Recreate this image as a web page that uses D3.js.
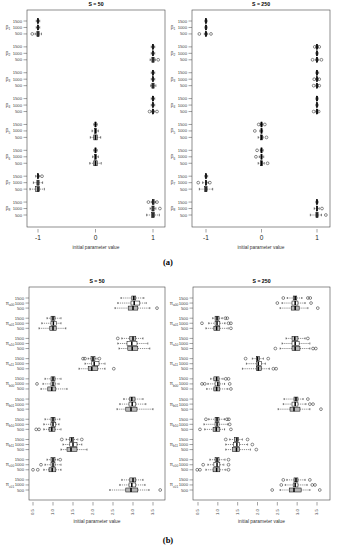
<!DOCTYPE html>
<html>
<head>
<meta charset="utf-8">
<script src="https://cdn.jsdelivr.net/npm/d3@7"></script>
<style>
  body { margin: 0; background: #fff; }
  text { font-family: "Liberation Sans", Arial, sans-serif; }
</style>
</head>
<body>
<div id="chart"></div>
<script>
// sample sizes per group (top to bottom inside a group)
const sizes = ["1500", "1000", "500"];
const boxFill = ["#c4c4c4", "#ffffff", "#b8b8b8"];

// group labels
const labelsA = ["1", "2", "3", "4", "5", "6", "7", "8"];
const labelsB = ["a00", "a01", "a10", "a11", "b00", "b01", "b10", "b11", "c00", "c01"];

const ticksA = [-1, 0, 1];
const ticksB = [0.5, 1.0, 1.5, 2.0, 2.5, 3.0, 3.5];

// [whisker low, q1, median, q3, whisker high]; rows: group by group, 1500 / 1000 / 500
const a50Stats = [
  [-1.03, -1.01, -1.00, -0.99, -0.97], [-1.03, -1.01, -1.00, -0.99, -0.97], [-1.05, -1.02, -1.00, -0.98, -0.94],
  [0.97, 0.99, 1.00, 1.01, 1.03], [0.97, 0.99, 1.00, 1.01, 1.03], [0.95, 0.98, 1.00, 1.02, 1.04],
  [0.97, 0.99, 1.00, 1.01, 1.03], [0.97, 0.99, 1.00, 1.01, 1.03], [0.96, 0.98, 1.00, 1.02, 1.05],
  [0.97, 0.99, 1.00, 1.01, 1.03], [0.97, 0.99, 1.00, 1.01, 1.03], [0.97, 0.99, 1.00, 1.01, 1.03],
  [-0.03, -0.01, 0.00, 0.01, 0.03], [-0.06, -0.02, 0.00, 0.02, 0.05], [-0.09, -0.03, 0.00, 0.03, 0.09],
  [-0.03, -0.01, 0.00, 0.01, 0.03], [-0.05, -0.02, 0.00, 0.02, 0.05], [-0.10, -0.03, 0.00, 0.03, 0.10],
  [-1.04, -1.01, -1.00, -0.99, -0.97], [-1.08, -1.02, -1.00, -0.98, -0.92], [-1.14, -1.04, -1.00, -0.97, -0.89],
  [0.97, 0.99, 1.00, 1.02, 1.04], [0.95, 0.98, 1.00, 1.02, 1.05], [0.89, 0.97, 1.00, 1.03, 1.11]
];
const a50Out = [
  [], [], [-1.10],
  [], [], [1.09],
  [], [], [],
  [], [], [0.94, 1.07],
  [], [], [],
  [], [], [],
  [-0.93], [], [],
  [0.92, 1.07], [1.12], []
];

const a250Stats = [
  [-1.02, -1.01, -1.00, -0.99, -0.98], [-1.02, -1.01, -1.00, -0.99, -0.98], [-1.03, -1.01, -1.00, -0.99, -0.97],
  [0.98, 0.99, 1.00, 1.01, 1.02], [0.98, 0.99, 1.00, 1.01, 1.02], [0.97, 0.99, 1.00, 1.01, 1.03],
  [0.98, 0.99, 1.00, 1.01, 1.03], [0.98, 0.99, 1.00, 1.01, 1.02], [0.98, 0.99, 1.00, 1.01, 1.02],
  [0.98, 0.99, 1.00, 1.01, 1.02], [0.98, 0.99, 1.00, 1.01, 1.02], [0.98, 0.99, 1.00, 1.01, 1.02],
  [-0.02, -0.01, 0.00, 0.01, 0.02], [-0.03, -0.01, 0.00, 0.01, 0.02], [-0.06, -0.02, 0.00, 0.02, 0.03],
  [-0.02, -0.01, 0.00, 0.01, 0.03], [-0.04, -0.01, 0.00, 0.01, 0.04], [-0.06, -0.02, 0.00, 0.02, 0.05],
  [-1.02, -1.01, -1.00, -0.99, -0.97], [-1.06, -1.01, -1.00, -0.99, -0.96], [-1.12, -1.03, -1.00, -0.98, -0.88],
  [0.98, 0.99, 1.00, 1.01, 1.02], [0.95, 0.99, 1.00, 1.01, 1.04], [0.88, 0.98, 1.00, 1.02, 1.08]
];
const a250Out = [
  [], [], [-1.12, -0.91],
  [0.96, 1.04], [], [0.92, 1.08],
  [], [0.95, 1.04], [0.94, 1.04],
  [], [], [0.94, 1.03],
  [-0.05, 0.06], [-0.12], [0.09],
  [-0.08], [-0.10], [0.11],
  [], [-1.14, -0.93], [],
  [], [1.09], [1.16]
];

const b50Stats = [
  [2.70, 2.97, 3.02, 3.07, 3.27], [2.62, 2.95, 3.03, 3.17, 3.33], [2.55, 2.88, 3.00, 3.12, 3.42],
  [0.85, 0.95, 1.00, 1.05, 1.20], [0.72, 0.95, 1.01, 1.08, 1.20], [0.65, 0.92, 1.00, 1.08, 1.32],
  [2.72, 2.92, 3.00, 3.07, 3.25], [2.62, 2.85, 2.97, 3.10, 3.37], [2.65, 2.87, 2.98, 3.12, 3.42],
  [1.88, 1.95, 2.00, 2.05, 2.10], [1.80, 1.97, 2.03, 2.15, 2.30], [1.65, 1.88, 1.97, 2.12, 2.30],
  [0.80, 0.95, 1.00, 1.05, 1.20], [0.75, 0.95, 1.00, 1.05, 1.15], [0.70, 0.87, 0.97, 1.07, 1.35],
  [2.77, 2.92, 2.97, 3.05, 3.25], [2.67, 2.90, 2.98, 3.07, 3.32], [2.60, 2.82, 2.95, 3.10, 3.50],
  [0.80, 0.95, 1.00, 1.05, 1.17], [0.77, 0.95, 1.00, 1.07, 1.15], [0.77, 0.90, 0.97, 1.05, 1.20],
  [1.33, 1.42, 1.47, 1.52, 1.62], [1.25, 1.42, 1.50, 1.60, 1.72], [1.20, 1.35, 1.45, 1.60, 1.85],
  [0.85, 0.95, 1.00, 1.05, 1.12], [0.80, 0.95, 1.00, 1.05, 1.20], [0.77, 0.90, 0.98, 1.07, 1.20],
  [2.72, 2.92, 3.00, 3.07, 3.25], [2.67, 2.90, 2.97, 3.07, 3.30], [2.42, 2.82, 2.95, 3.12, 3.40]
];
const b50Out = [
  [], [], [3.60],
  [], [], [],
  [2.62], [], [],
  [1.75, 1.80, 2.16], [], [2.52],
  [], [0.60], [],
  [], [], [],
  [], [], [0.58, 0.65],
  [1.22, 1.72], [], [],
  [1.18], [0.70], [0.50, 0.62],
  [], [], [3.68]
];

const b250Stats = [
  [2.75, 2.90, 2.95, 2.99, 3.12], [2.62, 2.87, 2.95, 3.02, 3.20], [2.57, 2.85, 2.95, 3.05, 3.27],
  [0.87, 0.93, 0.98, 1.03, 1.11], [0.77, 0.93, 0.98, 1.05, 1.18], [0.70, 0.90, 0.97, 1.05, 1.26],
  [2.72, 2.87, 2.94, 3.02, 3.20], [2.62, 2.87, 2.95, 3.05, 3.32], [2.57, 2.87, 2.95, 3.07, 3.32],
  [1.87, 1.97, 2.00, 2.05, 2.15], [1.72, 1.97, 2.02, 2.10, 2.20], [1.62, 1.97, 2.02, 2.10, 2.30],
  [0.82, 0.90, 0.97, 1.03, 1.13], [0.75, 0.93, 1.00, 1.05, 1.17], [0.72, 0.90, 0.97, 1.05, 1.25],
  [2.67, 2.92, 2.97, 3.02, 3.15], [2.65, 2.87, 2.95, 3.02, 3.22], [2.52, 2.82, 2.92, 3.07, 3.32],
  [0.77, 0.93, 0.98, 1.03, 1.17], [0.65, 0.93, 0.98, 1.03, 1.25], [0.67, 0.88, 0.96, 1.05, 1.17],
  [1.30, 1.42, 1.48, 1.52, 1.62], [1.20, 1.40, 1.48, 1.55, 1.75], [1.20, 1.37, 1.47, 1.55, 1.82],
  [0.80, 0.93, 0.98, 1.03, 1.18], [0.75, 0.90, 0.98, 1.05, 1.15], [0.70, 0.88, 0.97, 1.05, 1.20],
  [2.74, 2.92, 2.97, 3.02, 3.20], [2.70, 2.90, 2.95, 3.02, 3.25], [2.57, 2.80, 2.92, 3.10, 3.32]
];
const b250Out = [
  [2.65, 3.27, 3.33], [2.50, 3.35], [3.52],
  [1.19, 1.24], [0.60, 1.27, 1.33], [1.33],
  [3.27], [], [2.45, 3.40, 3.47],
  [1.70, 2.27], [], [2.40, 2.47],
  [1.20, 1.27], [0.60, 0.67, 1.30], [1.33],
  [3.27], [3.32, 3.40], [3.60],
  [0.70, 1.23, 1.28], [1.30], [0.55, 1.33],
  [1.20, 1.75], [1.87], [1.97],
  [1.27], [0.63, 1.27], [0.48, 0.55, 1.27],
  [2.65, 3.32], [2.60, 3.38, 3.45], [2.37, 3.57]
];

const W = 337, H = 550;
const svg = d3.select("#chart").append("svg")
    .attr("width", W)
    .attr("height", H);

// Draw one boxplot panel
function drawPanel(p) {
    const g = svg.append("g");
    const nGroups = p.labels.length;
    const maxPos = (nGroups - 1) * 4 + 2;

    const x = d3.scaleLinear().domain(p.xDomain).range(p.xRange);
    const y = d3.scaleLinear().domain([0, maxPos]).range(p.yRange);
    const bh = p.boxH;

    // frame
    g.append("rect")
        .attr("x", p.frame[0]).attr("y", p.frame[1])
        .attr("width", p.frame[2] - p.frame[0])
        .attr("height", p.frame[3] - p.frame[1])
        .attr("fill", "none").attr("stroke", "#444").attr("stroke-width", 0.6);

    // title
    g.append("text")
        .attr("x", (p.frame[0] + p.frame[2]) / 2)
        .attr("y", p.frame[1] - 4)
        .attr("text-anchor", "middle")
        .attr("font-size", 5.2)
        .attr("font-weight", "bold")
        .text(p.title);

    // y ticks and labels
    p.stats.forEach((s, i) => {
        const pos = Math.floor(i / 3) * 4 + (i % 3);
        const yy = y(pos);
        g.append("line")
            .attr("x1", p.frame[0] - 3.5).attr("x2", p.frame[0])
            .attr("y1", yy).attr("y2", yy)
            .attr("stroke", "#444").attr("stroke-width", 0.5);
        g.append("text")
            .attr("x", p.frame[0] - 5)
            .attr("y", yy + 1.5)
            .attr("text-anchor", "end")
            .attr("font-size", 4.2)
            .attr("fill", "#444")
            .text(sizes[i % 3]);
    });

    // group labels
    p.labels.forEach((lab, gi) => {
        const t = g.append("text")
            .attr("x", p.frame[0] - 19)
            .attr("y", y(gi * 4 + 1) + 1.5)
            .attr("text-anchor", "middle")
            .attr("font-size", 4.6)
            .attr("fill", "#444");
        t.append("tspan").text(p.base);
        t.append("tspan").attr("font-size", 3.2).attr("dy", 1.2).text(lab);
    });

    // x axis ticks
    const ty = p.frame[3] + 2;
    p.ticks.forEach(v => {
        g.append("line")
            .attr("x1", x(v)).attr("x2", x(v))
            .attr("y1", ty).attr("y2", ty + 3.5)
            .attr("stroke", "#444").attr("stroke-width", 0.5);
        if (p.rotate) {
            g.append("text")
                .attr("transform", `translate(${x(v) + 1.4},${ty + 10}) rotate(-90)`)
                .attr("text-anchor", "middle")
                .attr("font-size", 4.2)
                .attr("fill", "#444")
                .text(v.toFixed(1));
        } else {
            g.append("text")
                .attr("x", x(v)).attr("y", ty + 11)
                .attr("text-anchor", "middle")
                .attr("font-size", 6.5)
                .attr("fill", "#222")
                .text(v);
        }
    });

    g.append("text")
        .attr("x", (p.frame[0] + p.frame[2]) / 2)
        .attr("y", p.xLabelY)
        .attr("text-anchor", "middle")
        .attr("font-size", 4.8)
        .attr("fill", "#333")
        .text("initial parameter value");

    // boxes
    p.stats.forEach((s, i) => {
        const pos = Math.floor(i / 3) * 4 + (i % 3);
        const yy = y(pos);
        const [lo, q1, med, q3, hi] = s;
        const dash = "1.2,0.9";
        g.append("line")
            .attr("x1", x(lo)).attr("x2", x(q1)).attr("y1", yy).attr("y2", yy)
            .attr("stroke", "#000").attr("stroke-width", 0.45).attr("stroke-dasharray", dash);
        g.append("line")
            .attr("x1", x(q3)).attr("x2", x(hi)).attr("y1", yy).attr("y2", yy)
            .attr("stroke", "#000").attr("stroke-width", 0.45).attr("stroke-dasharray", dash);
        [lo, hi].forEach(v => {
            g.append("line")
                .attr("x1", x(v)).attr("x2", x(v))
                .attr("y1", yy - bh / 4).attr("y2", yy + bh / 4)
                .attr("stroke", "#000").attr("stroke-width", 0.5);
        });
        g.append("rect")
            .attr("x", x(q1)).attr("y", yy - bh / 2)
            .attr("width", x(q3) - x(q1)).attr("height", bh)
            .attr("fill", boxFill[i % 3])
            .attr("stroke", "#000").attr("stroke-width", 0.5);
        g.append("line")
            .attr("x1", x(med)).attr("x2", x(med))
            .attr("y1", yy - bh / 2).attr("y2", yy + bh / 2)
            .attr("stroke", "#000").attr("stroke-width", 1.5);
        p.out[i].forEach(v => {
            g.append("circle")
                .attr("cx", x(v)).attr("cy", yy).attr("r", 1.4)
                .attr("fill", "none").attr("stroke", "#000").attr("stroke-width", 0.45);
        });
    });
}

drawPanel({
    title: "S = 50", labels: labelsA, base: "β", stats: a50Stats, out: a50Out,
    frame: [27, 10, 165, 227], xDomain: [-1, 1], xRange: [38, 153], yRange: [21, 215],
    boxH: 5, ticks: ticksA, rotate: false, xLabelY: 249
});
drawPanel({
    title: "S = 250", labels: labelsA, base: "β", stats: a250Stats, out: a250Out,
    frame: [192, 10, 330, 227], xDomain: [-1, 1], xRange: [206, 317], yRange: [21, 215],
    boxH: 5, ticks: ticksA, rotate: false, xLabelY: 249
});
drawPanel({
    title: "S = 50", labels: labelsB, base: "π", stats: b50Stats, out: b50Out,
    frame: [29, 287, 165, 500], xDomain: [0.5, 3.5], xRange: [33, 153], yRange: [298, 490],
    boxH: 4, ticks: ticksB, rotate: true, xLabelY: 523
});
drawPanel({
    title: "S = 250", labels: labelsB, base: "π", stats: b250Stats, out: b250Out,
    frame: [193, 287, 330, 500], xDomain: [0.5, 3.5], xRange: [198, 317], yRange: [298, 490],
    boxH: 4, ticks: ticksB, rotate: true, xLabelY: 523
});

// sub-figure captions
svg.append("text")
    .attr("x", 168).attr("y", 265)
    .attr("text-anchor", "middle")
    .attr("font-size", 8.5)
    .attr("font-weight", "bold")
    .style("font-family", "'Liberation Serif', serif")
    .text("(a)");
svg.append("text")
    .attr("x", 168).attr("y", 543)
    .attr("text-anchor", "middle")
    .attr("font-size", 8.5)
    .attr("font-weight", "bold")
    .style("font-family", "'Liberation Serif', serif")
    .text("(b)");
</script>
</body>
</html>
